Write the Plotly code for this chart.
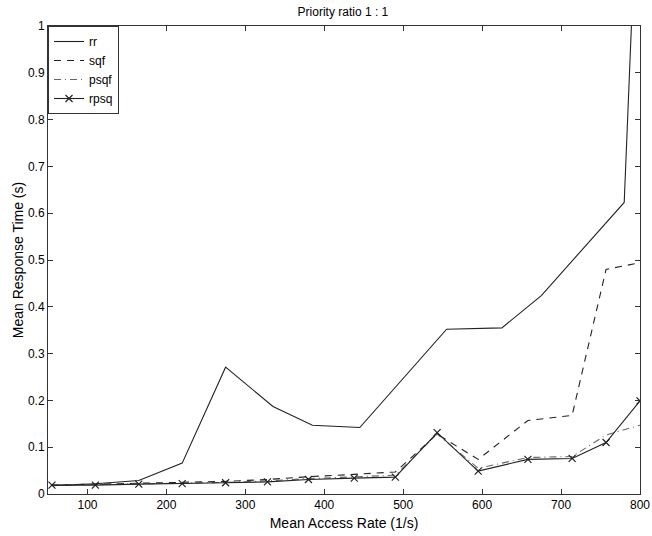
import plotly.graph_objects as go

# Data
rr_x = [55, 110, 165, 220, 275, 335, 385, 445, 555, 625, 675, 780, 800]
rr_y = [0.018, 0.022, 0.029, 0.066, 0.271, 0.187, 0.147, 0.142, 0.352, 0.355, 0.424, 0.623, 1.45]

common_x = [55, 110, 165, 220, 275, 328, 380, 438, 490, 543, 595, 658, 714, 757, 800]
sqf_y = [0.019, 0.021, 0.024, 0.025, 0.027, 0.031, 0.037, 0.042, 0.047, 0.128, 0.074, 0.157, 0.168, 0.480, 0.494]
psqf_y = [0.019, 0.020, 0.022, 0.023, 0.025, 0.028, 0.033, 0.037, 0.040, 0.128, 0.055, 0.078, 0.080, 0.126, 0.147]
rpsq_y = [0.019, 0.019, 0.021, 0.022, 0.024, 0.026, 0.031, 0.034, 0.036, 0.131, 0.049, 0.074, 0.076, 0.110, 0.199]

x_ticks = [100, 200, 300, 400, 500, 600, 700, 800]
y_ticks = [0, 0.1, 0.2, 0.3, 0.4, 0.5, 0.6, 0.7, 0.8, 0.9, 1]
y_tick_text = ["0", "0.1", "0.2", "0.3", "0.4", "0.5", "0.6", "0.7", "0.8", "0.9", "1"]

FONT = "Liberation Sans, Arial, Helvetica, sans-serif"

fig = go.Figure()
fig.add_trace(go.Scatter(x=rr_x, y=rr_y, mode="lines", name="rr",
                         line=dict(color="#222222", width=1.1)))
fig.add_trace(go.Scatter(x=common_x, y=sqf_y, mode="lines", name="sqf",
                         line=dict(color="#222222", width=1.1, dash="7px,6px")))
fig.add_trace(go.Scatter(x=common_x, y=psqf_y, mode="lines", name="psqf",
                         line=dict(color="#666666", width=1.1, dash="7px,4px,1px,4px")))
fig.add_trace(go.Scatter(x=common_x, y=rpsq_y, mode="lines+markers", name="rpsq",
                         line=dict(color="#222222", width=1.1),
                         marker=dict(symbol="x-thin-open", size=7,
                                     line=dict(color="#111111", width=1.2))))

fig.update_layout(
    width=652, height=536, autosize=False,
    margin=dict(l=48, r=12, t=26, b=42),
    paper_bgcolor="white", plot_bgcolor="white",
    font=dict(family=FONT, size=12, color="black"),
    title=dict(text="Priority ratio 1 : 1", x=0.526, xanchor="center",
               y=0.985, yanchor="top", font=dict(size=12)),
    showlegend=True,
    legend=dict(x=0.0, y=1.0, xanchor="left", yanchor="top",
                bgcolor="white", bordercolor="#333333", borderwidth=1,
                font=dict(size=12), tracegroupgap=0, itemwidth=30,
                traceorder="normal"),
    xaxis=dict(range=[50, 800], tickvals=x_ticks, ticks="inside", ticklen=5,
               showgrid=False, zeroline=False, showline=True, mirror="ticks",
               linecolor="#333333", linewidth=1, tickcolor="#333333",
               automargin=False,
               title=dict(text="Mean Access Rate (1/s)", standoff=6)),
    yaxis=dict(range=[0, 1], tickvals=y_ticks, ticktext=y_tick_text,
               ticks="inside", ticklen=5,
               showgrid=False, zeroline=False, showline=True, mirror="ticks",
               linecolor="#333333", linewidth=1, tickcolor="#333333",
               automargin=False,
               title=dict(text="Mean Response Time (s)", standoff=1)),
)

fig.write_html("out.html", config={"responsive": False, "displayModeBar": False},
               post_script="document.body.style.margin='0';document.body.style.overflow='hidden';")
